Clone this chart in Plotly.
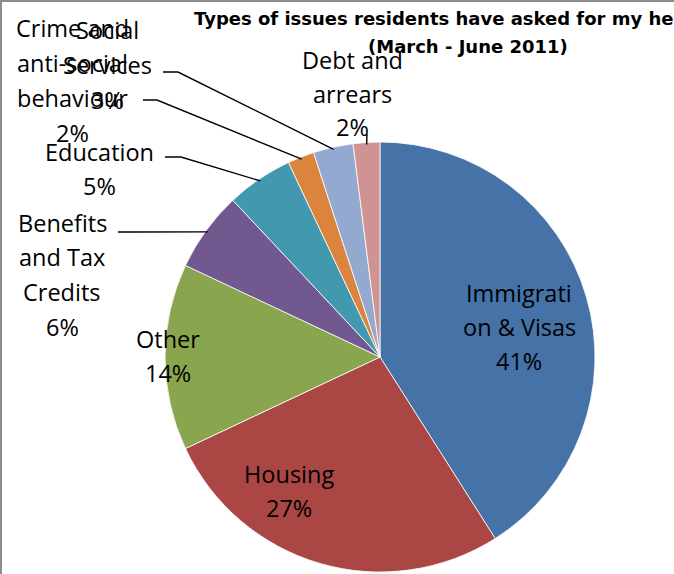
import numpy as np
import plotly.graph_objects as go

W, H = 674, 574

# ---- data ----
categories = ["Immigration & Visas", "Housing", "Other", "Benefits and Tax Credits",
              "Education", "Crime and anti-social behaviour", "Social Services",
              "Debt and arrears"]
values = [41, 27, 14, 6, 5, 2, 3, 2]
label_lines = [["Immigrati", "on & Visas"], ["Housing"], ["Other"],
               ["Benefits", "and Tax", "Credits"], ["Education"],
               ["Crime and", "anti-social", "behaviour"], ["Social", "Services"],
               ["Debt and", "arrears"]]
colors = ["#4572A7", "#AA4643", "#89A54E", "#71588F", "#4198AF", "#DB843D",
          "#93A9CF", "#D19392"]
title_lines = ["Types of issues residents have asked for my help with",
               "(March - June 2011)"]

# ---- layout helpers (pixel -> paper) ----
def X(px):
    return px / W

def Y(py):
    return 1 - py / H

CX, CY, R = 380, 357, 215

fig = go.Figure(go.Pie(
    labels=categories, values=values, sort=False, direction="clockwise",
    rotation=0, marker=dict(colors=colors, line=dict(color="white", width=0.8)),
    textinfo="none", hoverinfo="label+percent", showlegend=False,
    domain=dict(x=[X(CX - R), X(CX + R)], y=[Y(CY + R), Y(CY - R)]),
))

FONT = "'Open Sans', 'DejaVu Sans', sans-serif"
FS = 23.5

# label placement: (center x, first line y, line spacing) in pixels
label_pos = [(519, 293, 34), (289, 474, 34), (168, 339, 34), (62, 223, 34.5),
             (100, 152, 34), (72, 28, 35), (107, 30, 35), (352, 60, 33.5)]

total = sum(values)
annotations = []
for i, cat in enumerate(categories):
    pct = f"{round(100 * values[i] / total)}%"
    lines = label_lines[i] + [pct]
    cx, y0, ls = label_pos[i]
    for j, ln in enumerate(lines):
        annotations.append(dict(
            x=X(cx), y=Y(y0 + j * ls), xref="paper", yref="paper",
            text=ln, showarrow=False, xanchor="center", yanchor="middle",
            font=dict(family=FONT, size=FS, color="black")))

# title
for j, ln in enumerate(title_lines):
    annotations.append(dict(
        x=X(468), y=Y(19 + j * 27), xref="paper", yref="paper",
        text=f"<b>{ln}</b>", showarrow=False, xanchor="center", yanchor="middle",
        font=dict(family="'DejaVu Sans', sans-serif", size=18, color="black")))

# leader lines: from label to slice mid-angle on the rim
cum = np.cumsum([0] + values[:-1])
mid_frac = (cum + np.array(values) / 2) / total
leader_start = {3: [(118, 232), (134, 232)], 4: [(165, 157), (181, 157)],
                5: [(143, 100), (157, 100)], 6: [(163, 72), (178, 72)],
                7: [(367, 134)]}
shapes = []
for i, pts in leader_start.items():
    ang = 2 * np.pi * mid_frac[i]
    ex = CX + R * 0.99 * np.sin(ang)
    ey = CY - R * 0.99 * np.cos(ang)
    allp = pts + [(ex, ey)]
    path = "M " + " L ".join(f"{X(px):.5f},{Y(py):.5f}" for px, py in allp)
    shapes.append(dict(type="path", path=path, xref="paper", yref="paper",
                       line=dict(color="black", width=1.4)))

# chart border (only left/top visible in the crop)
shapes.append(dict(type="rect", xref="paper", yref="paper",
                   x0=X(1), x1=1.2, y0=-0.2, y1=Y(1),
                   line=dict(color="#8c8c8c", width=2), fillcolor="rgba(0,0,0,0)"))

fig.update_layout(
    width=W, height=H, margin=dict(l=0, r=0, t=0, b=0),
    paper_bgcolor="white", plot_bgcolor="white",
    annotations=annotations, shapes=shapes,
)

fig.write_html("out.html")
